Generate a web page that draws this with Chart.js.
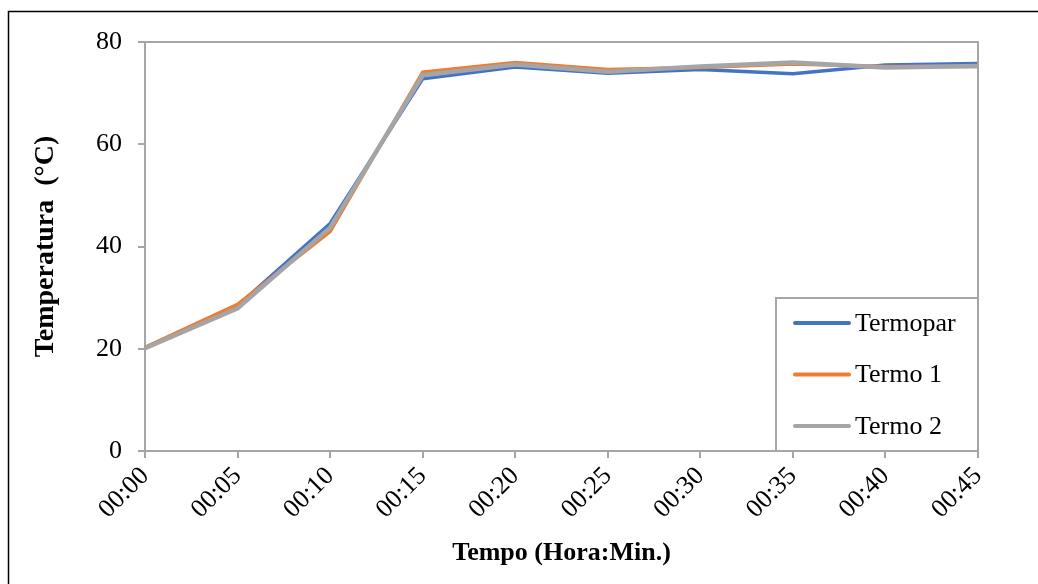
<!DOCTYPE html>
<html>
<head>
<meta charset="utf-8">
<script src="https://cdn.jsdelivr.net/npm/chart.js@4"></script>
<style>
  body { margin: 0; background: #fff; }
  canvas { display: block; }
</style>
</head>
<body>
<canvas id="chart-line" width="1038" height="584"></canvas>
<script>
var tempos = ["00:00", "00:05", "00:10", "00:15", "00:20", "00:25", "00:30", "00:35", "00:40", "00:45"];
var termopar = [20.2, 28.4, 44.5, 72.8, 75.1, 73.9, 74.6, 73.8, 75.5, 75.8];
var termo1 = [20.3, 28.7, 42.9, 74.1, 76.0, 74.6, 75.0, 75.7, 75.2, 75.2];
var termo2 = [20.1, 27.9, 43.7, 73.5, 75.6, 74.2, 75.2, 76.0, 75.0, 75.3];
var yTicks = [0, 20, 40, 60, 80];

var serif = "'Liberation Serif', 'Times New Roman', serif";
var axisGrey = "#a6a6a6";

// frame round the whole picture + grey box round the plot
var framePlugin = {
    id: 'frame',
    beforeDraw: function(chart) {
        var ctx = chart.ctx;
        ctx.save();
        ctx.fillStyle = "#fff";
        ctx.fillRect(0, 0, chart.width, chart.height);
        ctx.strokeStyle = "#000";
        ctx.lineWidth = 1.5;
        ctx.strokeRect(8.5, 11.5, 1200, 800);
        ctx.restore();
    },
    afterDatasetsDraw: function(chart) {
        var a = chart.chartArea;
        var ctx = chart.ctx;
        ctx.save();
        ctx.strokeStyle = axisGrey;
        ctx.lineWidth = 2;
        ctx.beginPath();
        ctx.moveTo(a.left, a.top);
        ctx.lineTo(a.right, a.top);
        ctx.lineTo(a.right, a.bottom);
        ctx.stroke();
        ctx.restore();
    }
};

// legend box in the lower right corner of the plot, like excel does it
var legendPlugin = {
    id: 'boxLegend',
    afterDraw: function(chart) {
        var a = chart.chartArea;
        var ctx = chart.ctx;
        var w = 202, h = 153;
        var x0 = a.right - w, y0 = a.bottom - h;
        ctx.save();
        ctx.fillStyle = "#fff";
        ctx.fillRect(x0, y0, w, h);
        ctx.strokeStyle = axisGrey;
        ctx.lineWidth = 2;
        ctx.strokeRect(x0, y0, w, h);
        ctx.font = "26px " + serif;
        ctx.textBaseline = "middle";
        ctx.fillStyle = "#000";
        chart.data.datasets.forEach(function(ds, i) {
            var y = y0 + 25 + i * 51.5;
            ctx.strokeStyle = ds.borderColor;
            ctx.lineWidth = 4;
            ctx.lineCap = "round";
            ctx.beginPath();
            ctx.moveTo(x0 + 19, y);
            ctx.lineTo(x0 + 73, y);
            ctx.stroke();
            ctx.fillText(ds.label, x0 + 79, y + 1);
        });
        ctx.restore();
    }
};

var ctx = document.getElementById("chart-line");
var myLineChart = new Chart(ctx, {
    type: 'line',
    data: {
        labels: tempos,
        datasets: [
            { label: "Termopar", data: termopar, borderColor: "#4472C4", borderWidth: 3.5, order: 3 },
            { label: "Termo 1", data: termo1, borderColor: "#ED7D31", borderWidth: 3.5, order: 2 },
            { label: "Termo 2", data: termo2, borderColor: "#A5A5A5", borderWidth: 4.5, order: 1 }
        ]
    },
    options: {
        responsive: false,
        animation: false,
        devicePixelRatio: 1,
        elements: { point: { radius: 0, hoverRadius: 0 }, line: { tension: 0, fill: false } },
        layout: { padding: { top: 42, right: 60, left: 0, bottom: 0 } },
        plugins: { legend: { display: false }, tooltip: { enabled: false } },
        scales: {
            x: {
                offset: false,
                afterFit: function(s) { s.height = 133; },
                grid: { drawOnChartArea: false, drawTicks: true, tickLength: 7, color: axisGrey, lineWidth: 2 },
                border: { color: axisGrey, width: 2 },
                ticks: { color: "#000", font: { family: serif, size: 26 }, maxRotation: 45, minRotation: 45, padding: 3, autoSkip: false },
                title: { display: true, text: "Tempo (Hora:Min.)", color: "#000",
                         font: { family: serif, size: 26, weight: "bold" }, padding: { bottom: 15, top: 0 } }
            },
            y: {
                min: 0,
                max: 80,
                afterFit: function(s) { s.width = 145; },
                afterBuildTicks: function(s) { s.ticks = yTicks.map(function(v) { return { value: v }; }); },
                grid: { drawOnChartArea: false, drawTicks: true, tickLength: 7, color: axisGrey, lineWidth: 2 },
                border: { color: axisGrey, width: 2 },
                ticks: { color: "#000", font: { family: serif, size: 26 }, padding: 16 },
                title: { display: true, text: "Temperatura  (°C)", color: "#000",
                         font: { family: serif, size: 28, weight: "bold" }, padding: { top: 29, bottom: 0 } }
            }
        }
    },
    plugins: [framePlugin, legendPlugin]
});
</script>
</body>
</html>
